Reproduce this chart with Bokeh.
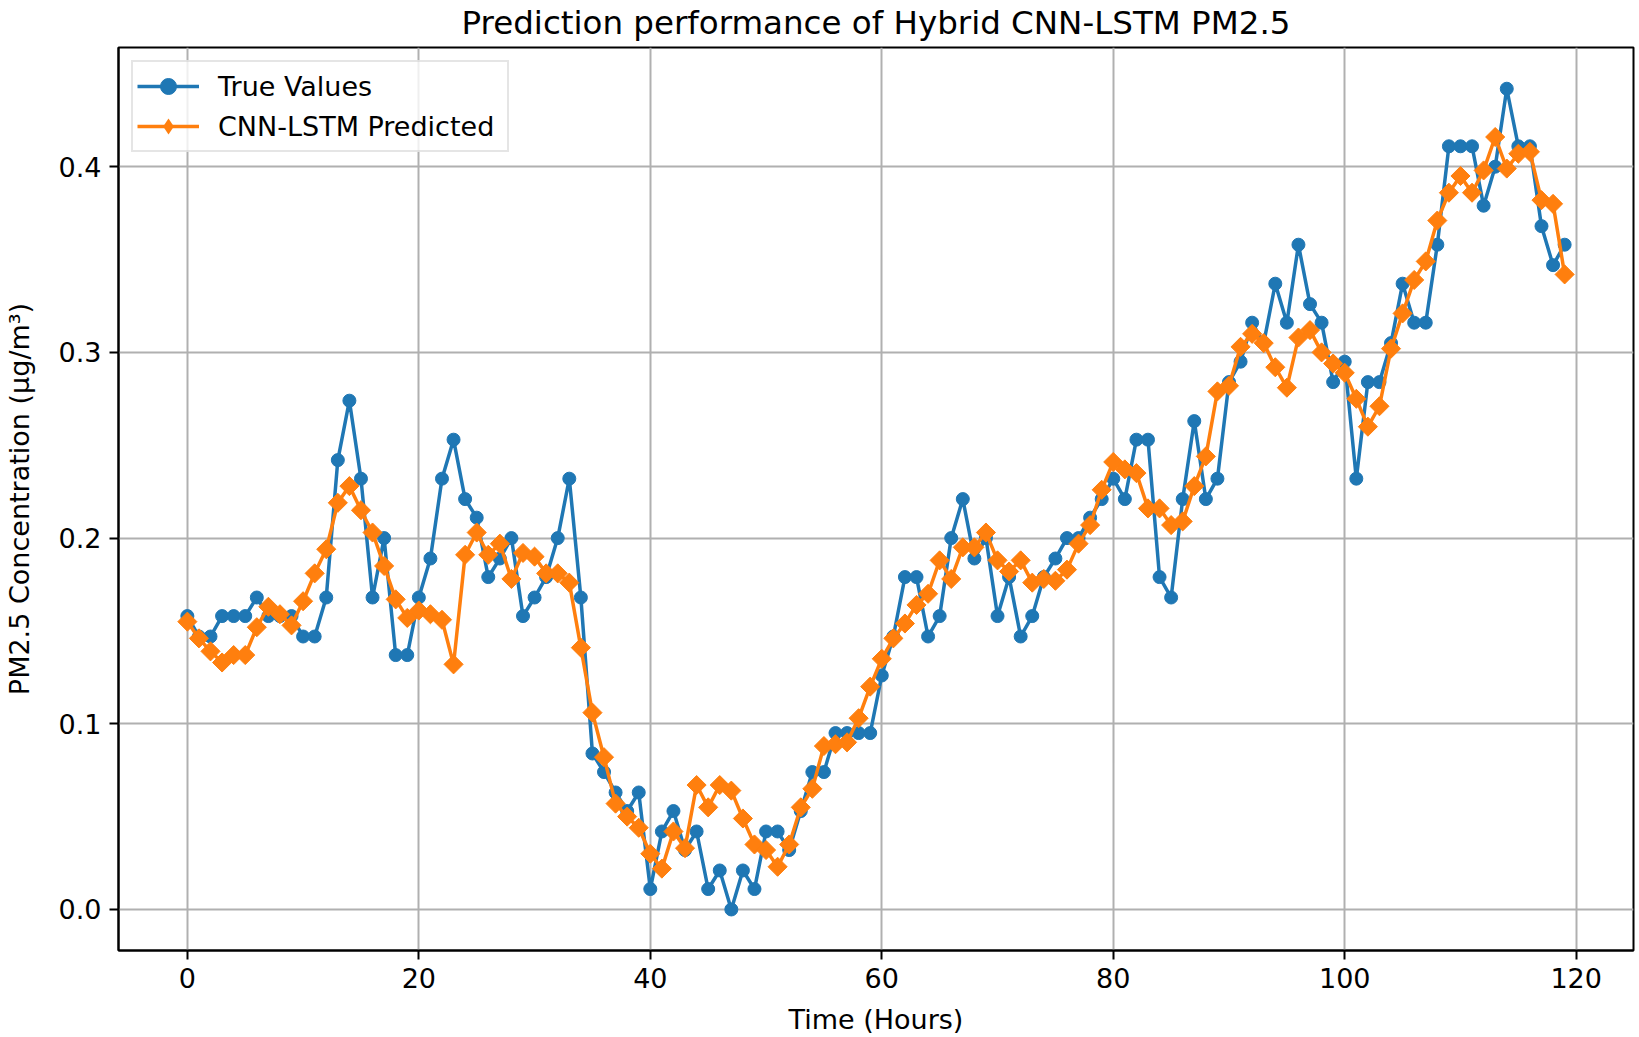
import math
from bokeh.plotting import figure
from bokeh.models import Range1d, FixedTicker, PrintfTickFormatter, Legend, LegendItem
from bokeh.embed import file_html
from bokeh.resources import INLINE

hours = list(range(120))

true_values = [
    0.158, 0.147, 0.147, 0.158, 0.158, 0.158, 0.168, 0.158, 0.158, 0.158,
    0.147, 0.147, 0.168, 0.242, 0.274, 0.232, 0.168, 0.200, 0.137, 0.137,
    0.168, 0.189, 0.232, 0.253, 0.221, 0.211, 0.179, 0.189, 0.200, 0.158,
    0.168, 0.179, 0.200, 0.232, 0.168, 0.084, 0.074, 0.063, 0.053, 0.063,
    0.011, 0.042, 0.053, 0.032, 0.042, 0.011, 0.021, 0.000, 0.021, 0.011,
    0.042, 0.042, 0.032, 0.053, 0.074, 0.074, 0.095, 0.095, 0.095, 0.095,
    0.126, 0.147, 0.179, 0.179, 0.147, 0.158, 0.200, 0.221, 0.189, 0.200,
    0.158, 0.179, 0.147, 0.158, 0.179, 0.189, 0.200, 0.200, 0.211, 0.221,
    0.232, 0.221, 0.253, 0.253, 0.179, 0.168, 0.221, 0.263, 0.221, 0.232,
    0.284, 0.295, 0.316, 0.305, 0.337, 0.316, 0.358, 0.326, 0.316, 0.284,
    0.295, 0.232, 0.284, 0.284, 0.305, 0.337, 0.316, 0.316, 0.358, 0.411,
    0.411, 0.411, 0.379, 0.400, 0.442, 0.411, 0.411, 0.368, 0.347, 0.358,
]

predicted_values = [
    0.155, 0.146, 0.139, 0.133, 0.137, 0.137, 0.152, 0.163, 0.159, 0.153,
    0.166, 0.181, 0.194, 0.219, 0.228, 0.215, 0.203, 0.185, 0.167, 0.157,
    0.161, 0.159, 0.156, 0.132, 0.191, 0.203, 0.191, 0.197, 0.178, 0.192,
    0.190, 0.181, 0.181, 0.176, 0.141, 0.106, 0.082, 0.057, 0.050, 0.044,
    0.030, 0.022, 0.042, 0.033, 0.067, 0.055, 0.067, 0.064, 0.049, 0.035,
    0.032, 0.023, 0.035, 0.055, 0.065, 0.088, 0.089, 0.090, 0.103, 0.120,
    0.135, 0.146, 0.154, 0.164, 0.170, 0.188, 0.178, 0.195, 0.195, 0.203,
    0.188, 0.182, 0.188, 0.176, 0.178, 0.177, 0.183, 0.197, 0.207, 0.226,
    0.241, 0.237, 0.235, 0.216, 0.216, 0.207, 0.209, 0.228, 0.244, 0.279,
    0.282, 0.303, 0.310, 0.305, 0.292, 0.281, 0.308, 0.312, 0.300, 0.294,
    0.289, 0.275, 0.260, 0.271, 0.302, 0.321, 0.339, 0.349, 0.371, 0.386,
    0.395, 0.386, 0.398, 0.416, 0.399, 0.407, 0.408, 0.382, 0.380, 0.342,
]

x_ticks = [0, 20, 40, 60, 80, 100, 120]
y_ticks = [0.0, 0.1, 0.2, 0.3, 0.4]

title_text = "Prediction performance of Hybrid CNN-LSTM PM2.5"
x_label = "Time (Hours)"
y_label = "PM2.5 Concentration (μg/m³)"
series_labels = ["True Values", "CNN-LSTM Predicted"]

BLUE = "#1f77b4"
ORANGE = "#ff7f0e"
FONT = "DejaVu Sans"

p = figure(
    width=1636, height=1037,
    output_backend="svg", toolbar_location=None,
    x_range=Range1d(-5.95, 124.95), y_range=Range1d(-0.0221, 0.4642),
    title=title_text, x_axis_label=x_label, y_axis_label=y_label,
    min_border_left=117, min_border_right=3, min_border_top=47, min_border_bottom=87,
)

p.background_fill_color = "white"
p.border_fill_color = "white"
p.outline_line_color = "black"
p.outline_line_width = 2

p.title.text_font = FONT
p.title.text_font_size = "32.5px"
p.title.text_font_style = "normal"
p.title.text_color = "black"
p.title.align = "center"
p.title.vertical_align = "top"
p.title.standoff = 7
p.title.text_line_height = 0.8

for ax in (p.xaxis[0], p.yaxis[0]):
    ax.axis_line_color = "black"
    ax.axis_line_width = 2
    ax.major_tick_line_color = "black"
    ax.major_tick_line_width = 2
    ax.major_tick_out = 9
    ax.major_tick_in = 0
    ax.minor_tick_line_color = None
    ax.major_label_text_font = FONT
    ax.major_label_text_font_size = "27px"
    ax.major_label_text_color = "black"
    ax.axis_label_text_font = FONT
    ax.axis_label_text_font_size = "27px"
    ax.axis_label_text_font_style = "normal"
    ax.axis_label_text_color = "black"
    ax.major_label_standoff = 8

p.xaxis[0].ticker = FixedTicker(ticks=x_ticks)
p.yaxis[0].ticker = FixedTicker(ticks=y_ticks)
p.xaxis[0].formatter = PrintfTickFormatter(format="%d")
p.yaxis[0].formatter = PrintfTickFormatter(format="%.1f")
p.xaxis[0].axis_label_standoff = 13
p.yaxis[0].axis_label_standoff = 21

p.xgrid[0].ticker = FixedTicker(ticks=x_ticks)
p.ygrid[0].ticker = FixedTicker(ticks=y_ticks)
for g in (p.xgrid[0], p.ygrid[0]):
    g.grid_line_color = "#b0b0b0"
    g.grid_line_width = 2

l1 = p.line(hours, true_values, line_color=BLUE, line_width=3.5)
s1 = p.scatter(hours, true_values, marker="circle", size=13,
               fill_color=BLUE, line_color=BLUE)
l2 = p.line(hours, predicted_values, line_color=ORANGE, line_width=3.5)
# diamond key glyph, drawn beneath (and hidden by) the rotated squares; used for the legend
s2_key = p.scatter(hours, predicted_values, marker="diamond", size=18,
                   fill_color=ORANGE, line_color=None)
s2 = p.scatter(hours, predicted_values, marker="square", angle=math.pi / 4, size=13.5,
               fill_color=ORANGE, line_color=ORANGE)

legend = Legend(
    items=[LegendItem(label=series_labels[0], renderers=[l1, s1]),
           LegendItem(label=series_labels[1], renderers=[l2, s2_key])],
    location="top_left",
    margin=13,
    padding=4,
    spacing=0,
    glyph_width=62,
    glyph_height=40,
    label_height=30,
    label_width=285,
    label_standoff=19,
    label_text_font=FONT,
    label_text_font_size="27px",
    label_text_color="black",
    border_line_color="#cccccc",
    border_line_width=2,
    background_fill_color="white",
    background_fill_alpha=0.8,
)
p.add_layout(legend)

open("out.html", "w").write(file_html(p, INLINE))
